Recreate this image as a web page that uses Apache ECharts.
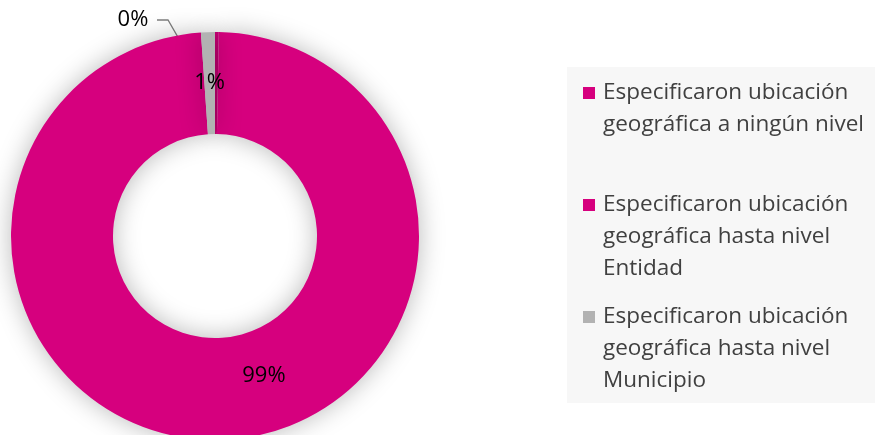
<!DOCTYPE html>
<html>
<head>
<meta charset="utf-8">
<script src="https://cdn.jsdelivr.net/npm/echarts@6/dist/echarts.min.js"></script>
<style>
  html, body { margin: 0; padding: 0; background: #fff; }
  #chart { width: 875px; height: 435px; }
</style>
</head>
<body>
<div id="chart"></div>
<script>
const categories = [
  'Especificaron ubicación geográfica a ningún nivel',
  'Especificaron ubicación geográfica hasta nivel Entidad',
  'Especificaron ubicación geográfica hasta nivel Municipio'
]
const legendLines = [
  ['Especificaron ubicación', 'geográfica a ningún nivel', ''],
  ['Especificaron ubicación', 'geográfica hasta nivel', 'Entidad'],
  ['Especificaron ubicación', 'geográfica hasta nivel', 'Municipio']
]
const values = [0.3, 98.6, 1.1]
const colors = ['#d6007e', '#d6007e', '#b2b2b2']

const chart = echarts.init(document.getElementById('chart'))

const fontFamily = '"Open Sans", "Noto Sans", sans-serif'

const legendRich = {
  gap: { width: 8 },
  ind: { width: 20 }
}
colors.forEach((c, i) => {
  legendRich['sq' + i] = { width: 12, height: 12, backgroundColor: c }
})

chart.setOption({
  animation: false,
  legend: {
    orient: 'vertical',
    left: 567,
    top: 67,
    padding: [10, 40, 6, 11],
    backgroundColor: '#f7f7f7',
    itemWidth: 0,
    itemHeight: 0,
    itemGap: 16,
    icon: 'rect',
    data: categories,
    selectedMode: false,
    textStyle: {
      color: '#404040',
      fontSize: 22.5,
      fontFamily,
      lineHeight: 32,
      rich: legendRich
    },
    formatter: (name) => {
      const i = categories.indexOf(name)
      const lines = legendLines[i]
      return '{sq' + i + '|}{gap|}' + lines[0] + '\n' +
        lines.slice(1).map(l => '{ind|}' + l).join('\n')
    }
  },
  series: [
    {
      type: 'pie',
      center: [215, 236],
      radius: [102, 204],
      startAngle: 90,
      clockwise: true,
      avoidLabelOverlap: false,
      itemStyle: {
        shadowBlur: 26,
        shadowColor: 'rgba(0,0,0,0.28)'
      },
      label: {
        show: true,
        position: 'inside',
        color: '#000',
        fontSize: 22,
        fontFamily,
        formatter: (p) => Math.round(p.percent) + '%'
      },
      labelLine: {
        lineStyle: { color: '#7f7f7f', width: 1.3 }
      },
      labelLayout: (p) => {
        if (p.dataIndex === 0) {
          return {
            x: 133, y: 20, align: 'center', verticalAlign: 'middle',
            labelLinePoints: [[157, 20], [168, 20], [198, 72]]
          }
        }
        if (p.dataIndex === 1) {
          return { dx: 45, dy: -16 }
        }
        return { dy: 3 }
      },
      data: categories.map((name, i) => {
        const item = {
          name,
          value: values[i],
          itemStyle: { color: colors[i] }
        }
        if (i === 0) {
          item.itemStyle.shadowBlur = 0
          item.label = { position: 'outside' }
          item.labelLine = { show: true }
        }
        return item
      })
    }
  ]
})
</script>
</body>
</html>
